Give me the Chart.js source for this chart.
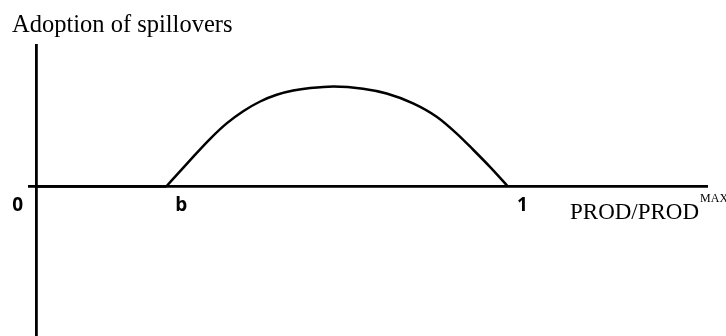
<!DOCTYPE html>
<html>
<head>
<meta charset="utf-8">
<script src="https://cdn.jsdelivr.net/npm/chart.js@4/dist/chart.umd.min.js"></script>
<style>
  body { margin: 0; background: #fff; }
</style>
</head>
<body>
<canvas id="chart" width="726" height="336"></canvas>
<script>
// Data (x = PROD/PROD^MAX, y = adoption, arbitrary units)
const B = 0.276;
const flatX = [0, B];
const flatY = [0, 0];
const curveX = [B, 0.305, 0.333, 0.369, 0.404, 0.439, 0.475, 0.510, 0.545, 0.581, 0.630, 0.693, 0.743, 0.799, 0.849, 0.891, 0.927, 0.962, 1.0];
const curveY = [0, 0.151, 0.297, 0.477, 0.631, 0.753, 0.850, 0.917, 0.959, 0.984, 1.0, 0.978, 0.930, 0.832, 0.698, 0.532, 0.365, 0.196, 0];
const tickValues = [0, B, 1];
const tickLabels = ['0', 'b', '1'];
const yTitle = 'Adoption of spillovers';
const xTitle = 'PROD/PROD';
const xTitleSup = 'MAX';

const toPoints = (xs, ys) => xs.map((x, i) => ({ x: x, y: ys[i] }));

// Draw the texts next to the axes
const labelsPlugin = {
    id: 'labels',
    afterDraw(chart) {
        const ctx = chart.ctx;
        const xs = chart.scales.x;
        const ys = chart.scales.y;
        const y0 = ys.getPixelForValue(0);
        ctx.save();
        ctx.fillStyle = '#000';
        ctx.textBaseline = 'alphabetic';

        ctx.font = 'bold 19px "Open Sans"';
        tickLabels.forEach((lbl, i) => {
            const px = xs.getPixelForValue(tickValues[i]);
            if (tickValues[i] === 0) {
                ctx.textAlign = 'right';
                ctx.fillText(lbl, px - 13, y0 + 24);
            } else {
                ctx.textAlign = 'left';
                ctx.fillText(lbl, px + 9, y0 + 24);
            }
        });

        ctx.textAlign = 'left';
        ctx.font = '24.5px "Liberation Serif"';
        ctx.fillText(yTitle, 12, 32);

        ctx.font = '23px "Liberation Serif"';
        const tx = chart.chartArea.right - 138;
        ctx.fillText(xTitle, tx, y0 + 32);
        const w = ctx.measureText(xTitle).width;
        ctx.font = '12px "Liberation Serif"';
        ctx.fillText(xTitleSup, tx + w + 1, y0 + 15);
        ctx.restore();
    }
};

const zeroOnly = axis => { axis.ticks = [{ value: 0 }]; };
const gridZero = c => (c.tick && c.tick.value === 0 ? '#000' : 'rgba(0,0,0,0)');

new Chart(document.getElementById('chart'), {
    type: 'scatter',
    data: {
        datasets: [
            {
                data: toPoints(flatX, flatY),
                showLine: true,
                borderColor: '#000',
                borderWidth: 2.5,
                pointRadius: 0
            },
            {
                data: toPoints(curveX, curveY),
                showLine: true,
                borderColor: '#000',
                borderWidth: 2.5,
                pointRadius: 0,
                cubicInterpolationMode: 'monotone'
            }
        ]
    },
    options: {
        responsive: false,
        animation: false,
        events: [],
        layout: { padding: { left: 28, right: 18, top: 44, bottom: 0 } },
        plugins: {
            legend: { display: false },
            title: { display: false },
            tooltip: { enabled: false }
        },
        scales: {
            x: {
                type: 'linear',
                min: -0.017,
                max: 1.424,
                afterBuildTicks: zeroOnly,
                ticks: { display: false },
                border: { display: false },
                grid: { drawTicks: false, color: gridZero, lineWidth: 2.8 }
            },
            y: {
                type: 'linear',
                min: -1.495,
                max: 1.425,
                afterBuildTicks: zeroOnly,
                ticks: { display: false },
                border: { display: false },
                grid: { drawTicks: false, color: gridZero, lineWidth: 2.8 }
            }
        }
    },
    plugins: [labelsPlugin]
});
</script>
</body>
</html>
